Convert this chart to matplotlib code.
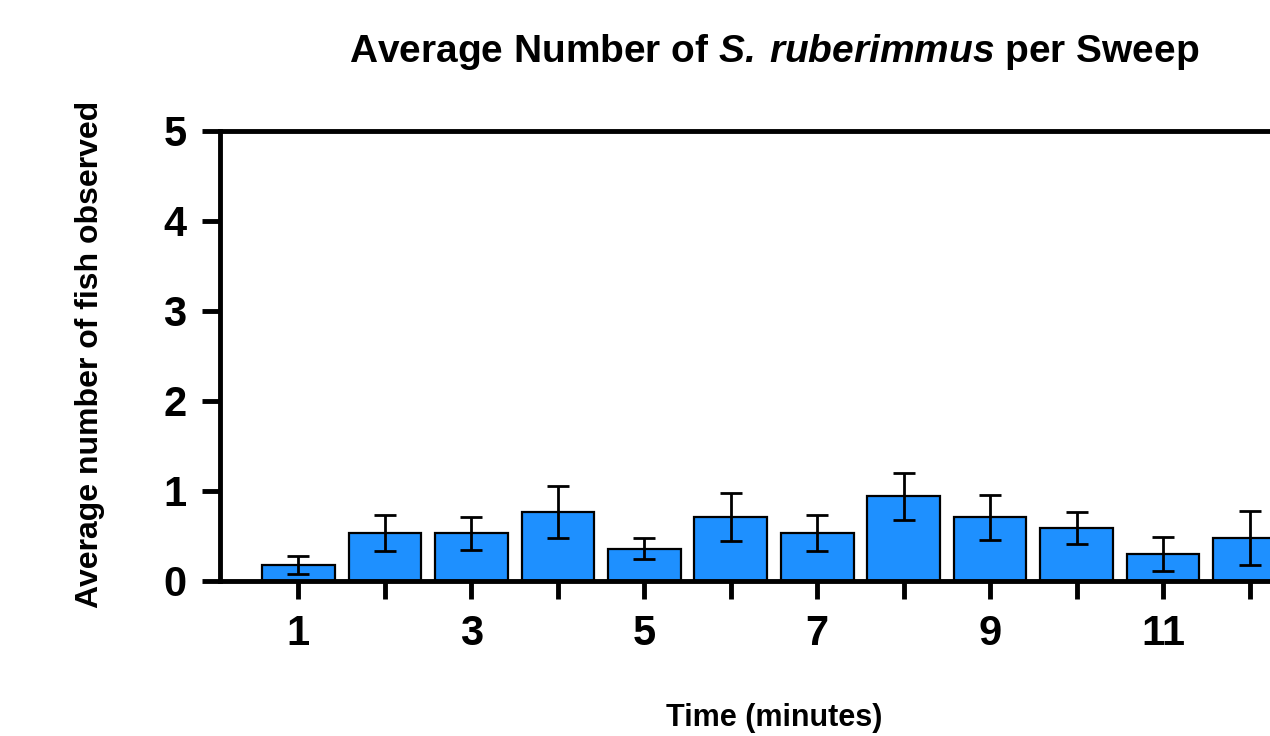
import matplotlib
matplotlib.use('Agg')
import matplotlib.pyplot as plt

# values
minutes = [1, 2, 3, 4, 5, 6, 7, 8, 9, 10, 11, 12]
mean_fish = [0.18, 0.53, 0.53, 0.77, 0.36, 0.71, 0.53, 0.94, 0.71, 0.59, 0.30, 0.48]
sem_fish = [0.10, 0.20, 0.18, 0.29, 0.12, 0.27, 0.20, 0.26, 0.25, 0.18, 0.19, 0.30]
tick_minutes = [1, 3, 5, 7, 9, 11]
y_ticks = [0, 1, 2, 3, 4, 5]

plt.rcParams['font.family'] = 'Liberation Sans'
plt.rcParams['mathtext.fontset'] = 'custom'
plt.rcParams['mathtext.bfit'] = 'Liberation Sans:bold:italic'
plt.rcParams['mathtext.bf'] = 'Liberation Sans:bold'

W, H = 1270, 736
fig = plt.figure(figsize=(W / 100, H / 100), dpi=100)

# axes runs past the right edge of the picture, as in the original crop
left_px, right_px, top_px, bottom_px = 220, 1328, 131, 581
ax = fig.add_axes([left_px / W, 1 - bottom_px / H,
                   (right_px - left_px) / W, (bottom_px - top_px) / H])

ax.bar(minutes, mean_fish, width=0.84, color='#1E90FF', edgecolor='black',
       linewidth=1.6, zorder=2)
ax.errorbar(minutes, mean_fish, yerr=sem_fish, fmt='none', ecolor='black',
            elinewidth=2, capsize=8, capthick=2, zorder=3)

ax.set_xlim(0.093, 12.907)
ax.set_ylim(0, 5)
ax.set_xticks(minutes)
ax.set_xticklabels([str(m) if m in tick_minutes else '' for m in minutes])
ax.set_yticks(y_ticks)

for side in ['left', 'bottom', 'top']:
    ax.spines[side].set_linewidth(3.5)
ax.spines['right'].set_visible(False)
ax.tick_params(axis='both', direction='out', length=13, width=3.5,
               labelsize=30, pad=11)
for lab in ax.get_xticklabels() + ax.get_yticklabels():
    lab.set_fontweight('bold')

cx = (left_px + right_px) / 2 / W
fig.text(cx, 1 - 52 / H,
         r'Average Number of $\mathbfit{S.\,ruberimmus}$ per Sweep',
         ha='center', va='center', fontsize=28, fontweight='bold')
fig.text(cx, 1 - 718 / H, 'Time (minutes)', ha='center', va='center',
         fontsize=22, fontweight='bold')
fig.text(90 / W, 1 - 354 / H, 'Average number of fish observed',
         rotation=90, ha='center', va='center', fontsize=23, fontweight='bold')

fig.savefig('out.png', dpi=100)
